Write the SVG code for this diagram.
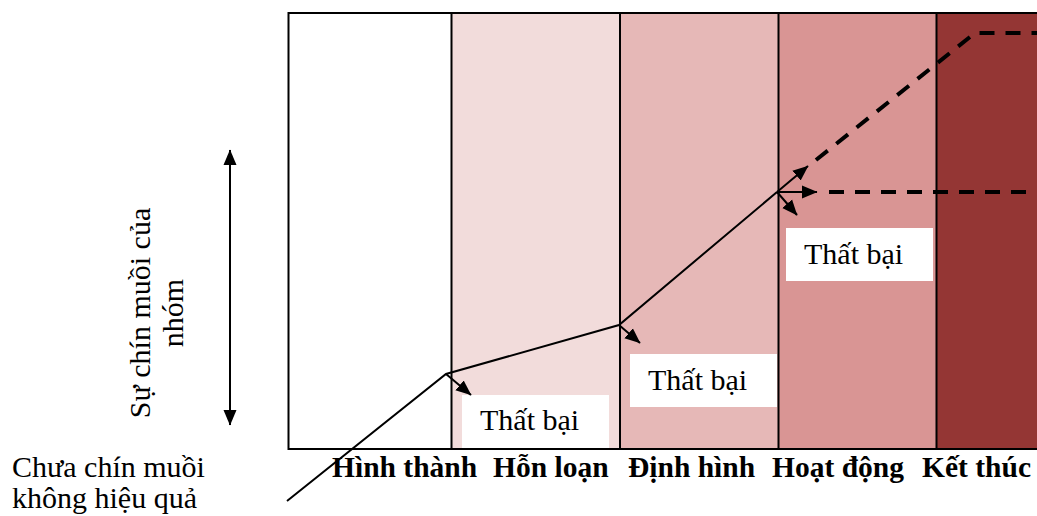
<svg xmlns="http://www.w3.org/2000/svg" width="1037" height="516" viewBox="0 0 1037 516">
  <defs>
    <style>
      .serif { font-family: "Liberation Serif", "Times New Roman", serif; fill: #000; }
      .stage { font-size: 29.5px; font-weight: bold; }
      .txt { font-size: 30px; }
      .div { stroke: #000; stroke-width: 2; fill: none; }
      .solid { stroke: #000; stroke-width: 2; fill: none; }
      .dash { stroke: #000; stroke-width: 4; fill: none; stroke-dasharray: 15 11; }
      .box { fill: #ffffff; }
    </style>
    <marker id="arrow" markerUnits="userSpaceOnUse" markerWidth="16" markerHeight="14" viewBox="0 0 16 14" refX="15" refY="7" orient="auto-start-reverse">
      <path d="M0,0.5 L15.5,7 L0,13.5 z" fill="#000"/>
    </marker>
  </defs>

  <rect x="0" y="0" width="1037" height="516" fill="#ffffff"/>

  <g id="stage-columns">
    <rect x="289" y="13" width="162" height="436" fill="#ffffff"/>
    <rect x="451" y="13" width="169" height="436" fill="#f2dcdb"/>
    <rect x="620" y="13" width="158" height="436" fill="#e6b8b7"/>
    <rect x="778" y="13" width="158" height="436" fill="#d99594"/>
    <rect x="936" y="13" width="110" height="436" fill="#943634"/>
    <rect x="288.5" y="13" width="760" height="436" class="div"/>
    <line x1="451.5" y1="13" x2="451.5" y2="449" class="div"/>
    <line x1="620" y1="13" x2="620" y2="449" class="div"/>
    <line x1="778.5" y1="13" x2="778.5" y2="449" class="div"/>
    <line x1="936.5" y1="13" x2="936.5" y2="449" class="div"/>
  </g>

  <g id="fail-1">
    <rect x="462" y="395" width="147" height="53" class="box"/>
    <text x="480" y="430" class="serif txt">Thất bại</text>
  </g>
  <g id="fail-2">
    <rect x="630" y="354" width="147" height="53" class="box"/>
    <text x="648" y="390" class="serif txt">Thất bại</text>
  </g>
  <g id="fail-3">
    <rect x="786" y="228" width="147" height="53" class="box"/>
    <text x="804" y="264" class="serif txt">Thất bại</text>
  </g>

  <g id="connectors">
    <polyline points="287,501 446,374 619,325 777,192" class="solid"/>
    <line x1="446" y1="374" x2="471" y2="395" class="solid" marker-end="url(#arrow)"/>
    <line x1="619" y1="325" x2="640" y2="343" class="solid" marker-end="url(#arrow)"/>
    <line x1="777" y1="192" x2="808" y2="166" class="solid" marker-end="url(#arrow)"/>
    <line x1="777" y1="192" x2="817" y2="192" class="solid" marker-end="url(#arrow)"/>
    <line x1="777" y1="192" x2="797" y2="215" class="solid" marker-end="url(#arrow)"/>
    <polyline points="816,160 975,33 1040,33" class="dash"/>
    <line x1="829" y1="192" x2="1040" y2="192" class="dash"/>
    <line x1="230" y1="150" x2="230" y2="425" class="solid" marker-start="url(#arrow)" marker-end="url(#arrow)"/>
  </g>

  <g id="axis-label">
    <text transform="translate(150,313) rotate(-90)" text-anchor="middle" class="serif txt">Sự chín muồi của</text>
    <text transform="translate(183,313) rotate(-90)" text-anchor="middle" class="serif txt">nhóm</text>
  </g>

  <g id="origin-label">
    <text x="12" y="477" class="serif txt">Chưa chín muồi</text>
    <text x="12" y="508" class="serif txt">không hiệu quả</text>
  </g>

  <g id="stage-labels">
    <text x="332" y="477" class="serif stage">Hình thành</text>
    <text x="493" y="477" class="serif stage">Hỗn loạn</text>
    <text x="628" y="477" class="serif stage">Định hình</text>
    <text x="772" y="477" class="serif stage">Hoạt động</text>
    <text x="922" y="477" class="serif stage">Kết thúc</text>
  </g>
</svg>
